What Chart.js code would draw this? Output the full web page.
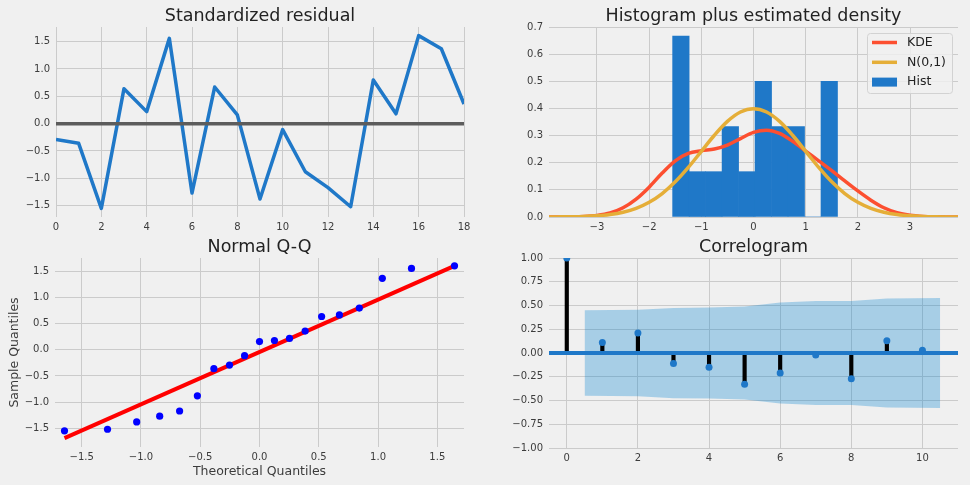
<!DOCTYPE html>
<html>
<head>
<meta charset="utf-8">
<script src="https://cdn.jsdelivr.net/npm/chart.js@4.4.1/dist/chart.umd.min.js"></script>
<style>
  html, body { margin: 0; padding: 0; background: #f0f0f0; overflow: hidden; }
  #wrap { position: relative; width: 970px; height: 485px; overflow: hidden; background: #f0f0f0; }
  #wrap canvas { position: absolute; }
</style>
</head>
<body>
<div id="wrap">
  <canvas id="resid"></canvas>
  <canvas id="hist"></canvas>
  <canvas id="qq"></canvas>
  <canvas id="acf"></canvas>
</div>
<script>
// Standardized residual
const residIndex = [0, 1, 2, 3, 4, 5, 6, 7, 8, 9, 10, 11, 12, 13, 14, 15, 16, 17, 18];
const residValues = [-0.29, -0.36, -1.55, 0.64, 0.22, 1.56, -1.27, 0.67, 0.16, -1.38,
                     -0.11, -0.88, -1.17, -1.52, 0.80, 0.18, 1.61, 1.37, 0.36];
const residXTicks = [0, 2, 4, 6, 8, 10, 12, 14, 16, 18];
const residYTicks = [-1.5, -1, -0.5, 0, 0.5, 1, 1.5];

// Histogram plus estimated density
const histEdges = [-1.55, -1.234, -0.918, -0.602, -0.286, 0.03, 0.346, 0.662, 0.978, 1.294, 1.61];
const histDensity = [0.667, 0.167, 0.167, 0.333, 0.167, 0.5, 0.333, 0.333, 0, 0.5];
const densityX = [-4, -3.75, -3.5, -3.25, -3, -2.75, -2.5, -2.25, -2, -1.75, -1.5, -1.25, -1, -0.75, -0.5, -0.25,
                  0, 0.25, 0.5, 0.75, 1, 1.25, 1.5, 1.75, 2, 2.25, 2.5, 2.75, 3, 3.25, 3.5, 3.75, 4];
const kdeValues = [0.0000, 0.0002, 0.0006, 0.0020, 0.0060, 0.0150, 0.0340, 0.0660, 0.1100, 0.1620, 0.2070,
                   0.2340, 0.2440, 0.2505, 0.2650, 0.2890, 0.3120, 0.3200, 0.3080, 0.2790, 0.2430, 0.2070,
                   0.1710, 0.1330, 0.0960, 0.0620, 0.0340, 0.0160, 0.0065, 0.0022, 0.0007, 0.0002, 0.0000];
const normValues = [0.0001, 0.0004, 0.0009, 0.0020, 0.0044, 0.0091, 0.0175, 0.0317, 0.0540, 0.0863, 0.1295,
                    0.1826, 0.2420, 0.3011, 0.3521, 0.3867, 0.3989, 0.3867, 0.3521, 0.3011, 0.2420, 0.1826,
                    0.1295, 0.0863, 0.0540, 0.0317, 0.0175, 0.0091, 0.0044, 0.0020, 0.0009, 0.0004, 0.0001];
const histXTicks = [-3, -2, -1, 0, 1, 2, 3];
const histYTicks = [0, 0.1, 0.2, 0.3, 0.4, 0.5, 0.6, 0.7];

// Normal Q-Q
const qqTheoretical = [-1.645, -1.282, -1.036, -0.842, -0.674, -0.524, -0.385, -0.253, -0.126, 0,
                       0.126, 0.253, 0.385, 0.524, 0.674, 0.842, 1.036, 1.282, 1.645];
const qqSample = [-1.55, -1.52, -1.38, -1.27, -1.17, -0.88, -0.36, -0.29, -0.11, 0.16,
                  0.18, 0.22, 0.36, 0.64, 0.67, 0.80, 1.37, 1.56, 1.61];
const qqLineX = [-1.645, 1.645];
const qqLineY = [-1.69, 1.61];
const qqTicks = [-1.5, -1, -0.5, 0, 0.5, 1, 1.5];

// Correlogram
const acfLags = [0, 1, 2, 3, 4, 5, 6, 7, 8, 9, 10];
const acfValues = [1.0, 0.11, 0.21, -0.11, -0.15, -0.33, -0.21, -0.02, -0.27, 0.13, 0.03];
const bandX = [0.5, 2, 3, 4, 5, 6, 7, 8, 9, 10.5];
const bandUpper = [0.450, 0.455, 0.475, 0.480, 0.489, 0.532, 0.548, 0.548, 0.574, 0.580];
const bandLower = [-0.450, -0.455, -0.475, -0.480, -0.489, -0.532, -0.548, -0.548, -0.574, -0.580];
const acfXTicks = [0, 2, 4, 6, 8, 10];
const acfYTicks = [-1, -0.75, -0.5, -0.25, 0, 0.25, 0.5, 0.75, 1];

// style
const FONT = 'DejaVu Sans';
const GRID = '#cbcbcb';
const TEXT = '#3c3c3c';
const TITLE = '#222222';
const BLUE = '#1f78c8';

const pts = (xs, ys) => xs.map((x, i) => ({ x: x, y: ys[i] }));
const fmt = (v, d) => v.toFixed(d).replace('-', '\u2212');

// legend box drawn inside the plot area (top right)
const boxLegend = {
  id: 'boxLegend',
  afterDatasetsDraw(chart, args, opts) {
    if (!opts.order) return;
    const { ctx, chartArea } = chart;
    const items = opts.order.map(lbl => chart.data.datasets.find(d => d.label === lbl));
    ctx.save();
    ctx.font = '12.5px "' + FONT + '"';
    const textW = Math.max(...items.map(d => ctx.measureText(d.label).width));
    const w = 40 + textW + 6, h = 60, step = 19.8;
    const x = chartArea.right - 6 - w, y = chartArea.top + 6;
    ctx.beginPath();
    if (ctx.roundRect) ctx.roundRect(x + 0.5, y + 0.5, w, h, 3); else ctx.rect(x + 0.5, y + 0.5, w, h);
    ctx.fillStyle = 'rgba(240,240,240,0.8)';
    ctx.fill();
    ctx.strokeStyle = '#d2d2d2';
    ctx.lineWidth = 1;
    ctx.stroke();
    items.forEach((d, i) => {
      const cy = y + 9.5 + step * i;
      if (d.type === 'bar') {
        ctx.fillStyle = d.backgroundColor;
        ctx.fillRect(x + 5, cy - 4.5, 25, 9);
      } else {
        ctx.strokeStyle = d.borderColor;
        ctx.lineWidth = d.borderWidth;
        ctx.beginPath();
        ctx.moveTo(x + 5, cy);
        ctx.lineTo(x + 30, cy);
        ctx.stroke();
      }
      ctx.fillStyle = TITLE;
      ctx.textBaseline = 'middle';
      ctx.fillText(d.label, x + 40, cy);
    });
    ctx.restore();
  }
};

function axis(range, ticks, digits, size, pad, extra) {
  return Object.assign({
    type: 'linear',
    min: range[0],
    max: range[1],
    offset: false,
    border: { display: false },
    grid: { color: GRID, lineWidth: 1, drawTicks: false, offset: false },
    ticks: {
      color: TEXT, font: { family: FONT, size: 10 }, padding: pad,
      autoSkip: false, maxRotation: 0,
      callback: v => fmt(v, digits)
    },
    afterBuildTicks: s => { s.ticks = ticks.map(v => ({ value: v })); },
    afterFit: s => { if (s.isHorizontal()) s.height = size; else s.width = size; }
  }, extra || {});
}

// empty axis on the right, same width as the left one, so the title centres over the plot
function spacer(size) {
  return {
    type: 'linear', position: 'right', display: true,
    border: { display: false }, grid: { display: false }, ticks: { display: false },
    afterFit: s => { s.width = size; }
  };
}

function panel(id, box, title, datasets, scales, extraPlugins) {
  const cv = document.getElementById(id);
  const w = box.right - box.left + box.yW * 2;
  const h = box.bottom - box.top + 21 + box.xH;
  cv.style.left = (box.left - box.yW) + 'px';
  cv.style.top = (box.top - 21) + 'px';
  cv.style.width = w + 'px';
  cv.style.height = h + 'px';
  cv.width = w;
  cv.height = h;
  scales.pad = spacer(box.yW);
  return new Chart(cv, {
    type: 'scatter',
    data: { datasets: datasets },
    options: {
      responsive: false,
      animation: false,
      devicePixelRatio: 1,
      layout: { padding: 0 },
      plugins: Object.assign({
        legend: { display: false },
        tooltip: { enabled: false },
        title: {
          display: true, text: title, color: TITLE,
          font: { family: FONT, size: 17.5, weight: 'normal', lineHeight: '20px' },
          padding: { top: 0, bottom: 1 }
        }
      }, extraPlugins || {}),
      scales: scales
    },
    plugins: [boxLegend]
  });
}

// top left
panel('resid', { left: 56, right: 464, top: 27, bottom: 217, yW: 56, xH: 21 }, 'Standardized residual', [
  { type: 'line', data: pts([residIndex[0], residIndex[residIndex.length - 1]], [0, 0]),
    borderColor: '#5c5c5c', borderWidth: 3.5, pointRadius: 0, order: 0 },
  { type: 'line', data: pts(residIndex, residValues), borderColor: BLUE, borderWidth: 3.5,
    pointRadius: 0, borderJoinStyle: 'round', tension: 0, order: 1 }
], {
  x: axis([0, 18], residXTicks, 0, 21, 4),
  y: axis([-1.708, 1.768], residYTicks, 1, 56, 6)
});

// top right
const histCenters = histDensity.map((v, i) => (histEdges[i] + histEdges[i + 1]) / 2);
panel('hist', { left: 549, right: 958, top: 27, bottom: 217, yW: 59, xH: 21 }, 'Histogram plus estimated density', [
  { type: 'line', label: 'N(0,1)', data: pts(densityX, normValues), borderColor: '#e5ae38',
    borderWidth: 3.5, pointRadius: 0, cubicInterpolationMode: 'monotone', order: 0 },
  { type: 'line', label: 'KDE', data: pts(densityX, kdeValues), borderColor: '#fc4f30',
    borderWidth: 3.5, pointRadius: 0, cubicInterpolationMode: 'monotone', order: 1 },
  { type: 'bar', label: 'Hist', data: pts(histCenters, histDensity), backgroundColor: BLUE,
    borderWidth: 0, barPercentage: 1, categoryPercentage: 1, order: 2 }
], {
  x: axis([-3.92, 3.92], histXTicks, 0, 21, 4),
  y: axis([0, 0.7], histYTicks, 1, 59, 6)
}, { boxLegend: { order: ['KDE', 'N(0,1)', 'Hist'] } });

// bottom left
panel('qq', { left: 55, right: 464, top: 258, bottom: 447, yW: 55, xH: 38 }, 'Normal Q-Q', [
  { type: 'line', data: pts(qqLineX, qqLineY), borderColor: '#ff0000', borderWidth: 4,
    pointRadius: 0, order: 1 },
  { type: 'scatter', data: pts(qqTheoretical, qqSample), backgroundColor: '#0000ff',
    borderWidth: 0, pointRadius: 3.6, order: 0 }
], {
  x: axis([-1.725, 1.725], qqTicks, 1, 38, 4, {
    title: { display: true, text: 'Theoretical Quantiles', color: TEXT,
             font: { family: FONT, size: 12.5, lineHeight: '15px' }, padding: { top: 0, bottom: 6 } }
  }),
  y: axis([-1.86, 1.76], qqTicks, 1, 55, 6, {
    title: { display: true, text: 'Sample Quantiles', color: TEXT,
             font: { family: FONT, size: 12.5, lineHeight: '15px' }, padding: { top: 7.5, bottom: 0 } }
  })
});

// bottom right
const acfX = [-0.5, 11];
panel('acf', { left: 549, right: 958, top: 258, bottom: 448, yW: 59, xH: 37 }, 'Correlogram', [
  { type: 'line', data: pts(bandX, bandUpper), borderWidth: 0, pointRadius: 0,
    backgroundColor: 'rgba(0,130,210,0.3)', fill: '+1', order: 5 },
  { type: 'line', data: pts(bandX, bandLower), borderWidth: 0, pointRadius: 0,
    fill: false, order: 5 },
  { type: 'bar', data: acfLags.map((l, i) => ({ x: l, y: [0, acfValues[i]] })),
    backgroundColor: '#000000', barThickness: 3.5, order: 3 },
  { type: 'line', data: pts(acfX, [0, 0]), borderColor: BLUE, borderWidth: 4,
    pointRadius: 0, order: 2 },
  { type: 'scatter', data: pts(acfLags, acfValues), backgroundColor: BLUE,
    borderWidth: 0, pointRadius: 3.5, clip: 0, order: 1 }
], {
  x: axis(acfX, acfXTicks, 0, 37, 4),
  y: axis([-1, 1], acfYTicks, 2, 59, 6)
});
</script>
</body>
</html>
